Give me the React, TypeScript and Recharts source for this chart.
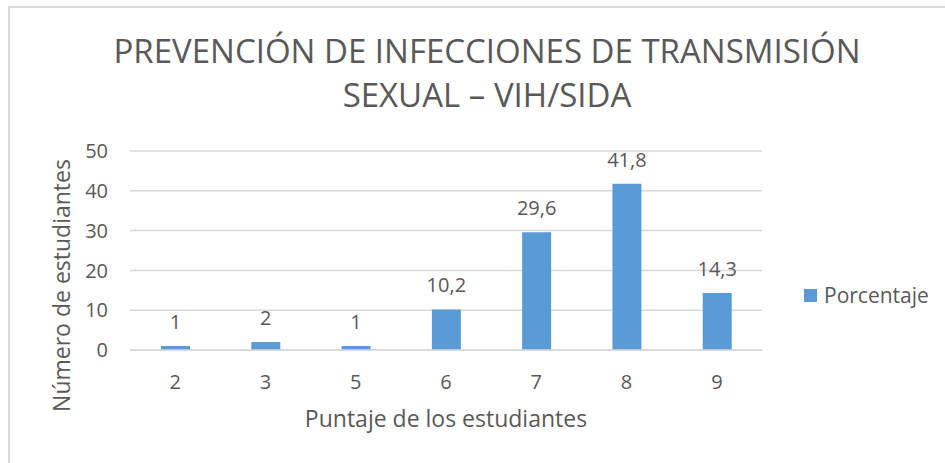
import React from 'react';
import { BarChart, Bar, XAxis, YAxis, CartesianGrid, Legend, LabelList } from 'recharts';

const categories: string[] = ['2', '3', '5', '6', '7', '8', '9'];
const porcentaje: number[] = [1, 2, 1, 10.2, 29.6, 41.8, 14.3];
const yTicks: number[] = [0, 10, 20, 30, 40, 50];
const titleLines: string[] = ['PREVENCIÓN DE INFECCIONES DE TRANSMISIÓN', 'SEXUAL – VIH/SIDA'];
const seriesName = 'Porcentaje';
const xTitle = 'Puntaje de los estudiantes';
const yTitle = 'Número de estudiantes';

const data = categories.map((c, i) => ({ cat: c, value: porcentaje[i] }));

const FONT = '"Open Sans", sans-serif';
const TEXT = '#595959';
const GRID = '#d9d9d9';
const BAR = '#5b9bd5';

const fmt = (v: any) => String(v).replace('.', ',');

const LegendContent = () => (
  <div style={{ display: 'flex', alignItems: 'center', fontFamily: FONT, fontSize: 21, color: TEXT, whiteSpace: 'nowrap' }}>
    <span style={{ display: 'inline-block', width: 13, height: 13, background: BAR, marginRight: 7 }} />
    <span>{seriesName}</span>
  </div>
);

export default function App() {
  return (
    <div style={{ position: 'absolute', left: 0, top: 0, width: 945, height: 463, overflow: 'hidden', background: '#fff' }}>
      <div style={{ position: 'absolute', left: 8, top: 6, width: 1000, height: 1000, border: `2px solid ${GRID}`, boxSizing: 'border-box' }} />
      <svg width={945} height={130} style={{ position: 'absolute', left: 0, top: 0 }}>
        {titleLines.map((t, i) => (
          <text key={i} x={487} y={63 + i * 44} textAnchor="middle" fontFamily={FONT} fontSize={33} fill={TEXT}>{t}</text>
        ))}
      </svg>
      <div style={{ position: 'absolute', left: 0, top: 0 }}>
        <BarChart width={945} height={463} data={data} margin={{ top: 151, right: 183, bottom: 73, left: 0 }}>
          <CartesianGrid vertical={false} stroke={GRID} strokeWidth={1.5} />
          <XAxis
            dataKey="cat"
            height={40}
            tickLine={false}
            axisLine={{ stroke: GRID, strokeWidth: 1.5 }}
            tickSize={0}
            tickMargin={25}
            tick={{ fontFamily: FONT, fontSize: 20, fill: TEXT }}
            label={{
              content: (props: any) => {
                const vb = props.viewBox || {};
                return (
                  <text x={vb.x + vb.width / 2} y={427} textAnchor="middle" fontFamily={FONT} fontSize={23} fill={TEXT}>{xTitle}</text>
                );
              },
            }}
          />
          <YAxis
            width={130}
            domain={[0, 50]}
            ticks={yTicks}
            tickLine={false}
            axisLine={false}
            tickSize={0}
            tickMargin={22}
            tick={{ fontFamily: FONT, fontSize: 20, fill: TEXT }}
            label={{
              content: (props: any) => {
                const vb = props.viewBox || {};
                const cy = vb.y + vb.height / 2 + 35;
                return (
                  <text x={70} y={cy} transform={`rotate(-90, 70, ${cy})`} textAnchor="middle" fontFamily={FONT} fontSize={23} fill={TEXT}>{yTitle}</text>
                );
              },
            }}
          />
          <Legend
            layout="vertical"
            align="center"
            verticalAlign="middle"
            content={<LegendContent />}
            wrapperStyle={{ position: 'absolute', left: 804, top: 281, width: 'auto' }}
          />
          <Bar dataKey="value" name={seriesName} fill={BAR} barSize={29} isAnimationActive={false}>
            <LabelList dataKey="value" position="top" offset={17} formatter={fmt} style={{ fontFamily: FONT, fontSize: 20, fill: TEXT }} />
          </Bar>
        </BarChart>
      </div>
    </div>
  );
}
